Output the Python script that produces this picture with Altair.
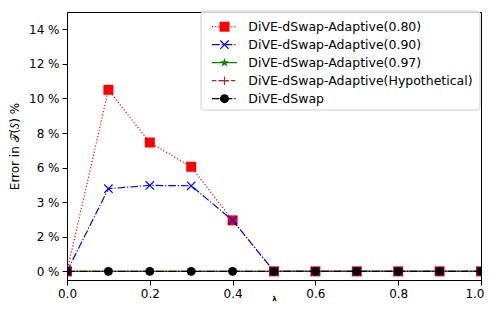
import math
import altair as alt
import pandas as pd

# ---- data ----
lam = [0.0, 0.1, 0.2, 0.3, 0.4, 0.5, 0.6, 0.7, 0.8, 0.9, 1.0]
adaptive_080 = [0.0, 10.5, 7.45, 6.05, 2.95, 0.0, 0.0, 0.0, 0.0, 0.0, 0.0]
adaptive_090 = [0.0, 4.78, 4.97, 4.95, 2.95, 0.0, 0.0, 0.0, 0.0, 0.0, 0.0]
adaptive_097 = [0.0, 0.0, 0.0, 0.0, 0.0, 0.0, 0.0, 0.0, 0.0, 0.0, 0.0]
adaptive_hyp = [0.0, 0.0, 0.0, 0.0, 0.0, 0.0, 0.0, 0.0, 0.0, 0.0, 0.0]
dswap = [0.0, 0.0, 0.0, 0.0, 0.0, 0.0, 0.0, 0.0, 0.0, 0.0, 0.0]

series_names = [
    "DiVE-dSwap-Adaptive(0.80)",
    "DiVE-dSwap-Adaptive(0.90)",
    "DiVE-dSwap-Adaptive(0.97)",
    "DiVE-dSwap-Adaptive(Hypothetical)",
    "DiVE-dSwap",
]
series_values = [adaptive_080, adaptive_090, adaptive_097, adaptive_hyp, dswap]

x_ticks = [0.0, 0.2, 0.4, 0.6, 0.8, 1.0]
y_ticks = [0, 2, 4, 6, 8, 10, 12, 14]
y_tick_labels = ["0 %", "2 %", "3 %", "6 %", "8 %", "10 %", "12 %", "14 %"]

# ---- layout / styles ----
W, H = 414, 268
XDOM = [0, 1]
YDOM = [-0.5, 15]


def px_x(px):
    return XDOM[0] + px / W * (XDOM[1] - XDOM[0])


def px_y(py):
    return YDOM[1] - py / H * (YDOM[1] - YDOM[0])


X_PATH = "M-1,-1L1,1M-1,1L1,-1"
PLUS_PATH = "M-1,0L1,0M0,-1L0,1"
pts = []
for k in range(10):
    r = 1.0 if k % 2 == 0 else 0.4
    a = -math.pi / 2 + k * math.pi / 5
    pts.append(f"{r*math.cos(a):.3f},{r*math.sin(a):.3f}")
STAR_PATH = "M" + "L".join(pts) + "Z"

styles = [
    dict(color="#ff0000", dash=[1.2, 2.0], shape="square", size=100, filled=True),
    dict(color="#0000ff", dash=[7.7, 1.9, 1.2, 1.9], shape=X_PATH, size=70, filled=False),
    dict(color="#008000", dash=[1, 0], shape=STAR_PATH, size=90, filled=True),
    dict(color="#a52a2a", dash=[4.4, 1.9], shape=PLUS_PATH, size=70, filled=False),
    dict(color="#000000", dash=[7.7, 1.9, 1.2, 1.9], shape="circle", size=80, filled=True),
]

rows = []
for name, vals in zip(series_names, series_values):
    for l, v in zip(lam, vals):
        rows.append({"series": name, "lam": l, "err": v})
df = pd.DataFrame(rows)

label_expr = "[" + ",".join(f"'{t}'" for t in y_tick_labels) + "][round(datum.value/2)]"

xscale = alt.Scale(domain=XDOM, nice=False, zero=False)
yscale = alt.Scale(domain=YDOM, nice=False, zero=False)

x_axis = alt.Axis(values=x_ticks, format=".1f", title="λ", titleFontSize=7,
                  titleY=14, titleBaseline="top", grid=False, tickSize=5,
                  labelPadding=3, labelFlush=False, labelOverlap=False,
                  labelAlign={"condition": {"test": "datum.value >= 1", "value": "right"},
                              "value": "center"},
                  labelOffset={"condition": {"test": "datum.value >= 1", "value": 3},
                               "value": 0})
y_axis = alt.Axis(values=y_ticks, labelExpr=label_expr, title="Error in 𝒯(𝑆) %",
                  titlePadding=7, grid=False, tickSize=5, labelPadding=3,
                  labelOverlap=False, titleFontWeight="normal")

x_enc = alt.X("lam:Q", scale=xscale, axis=x_axis, title="λ")
y_enc = alt.Y("err:Q", scale=yscale, axis=y_axis, title="Error in 𝒯(𝑆) %")

layers = []
for name, st in zip(series_names, styles):
    base = alt.Chart(df).transform_filter(alt.datum.series == name)
    layers.append(
        base.mark_line(color=st["color"], strokeDash=st["dash"], strokeWidth=1.2, clip=True)
        .encode(x=x_enc, y=y_enc)
    )
    layers.append(
        base.mark_point(shape=st["shape"], size=st["size"], filled=st["filled"],
                        color=st["color"], opacity=1, strokeWidth=1.2, clip=True)
        .encode(x=x_enc, y=y_enc)
    )


def lx(px):
    return alt.XDatum(px_x(px), type="quantitative", scale=xscale, axis=x_axis, title="λ")


def ly(py):
    return alt.YDatum(px_y(py), type="quantitative", scale=yscale, axis=y_axis,
                      title="Error in 𝒯(𝑆) %")


one = pd.DataFrame({"k": [0]})
layers.append(
    alt.Chart(one).mark_rect(fill="white", fillOpacity=0.8, stroke="#cccccc",
                             strokeWidth=1, cornerRadius=3)
    .encode(x=lx(134), x2=alt.X2Datum(px_x(413)),
            y=ly(-1), y2=alt.Y2Datum(px_y(98)))
)
for i, (name, st) in enumerate(zip(series_names, styles)):
    row_y = 14.7 + i * 18.0
    layers.append(
        alt.Chart(one).mark_rule(color=st["color"], strokeDash=st["dash"], strokeWidth=1.2)
        .encode(x=lx(145), x2=alt.X2Datum(px_x(170)), y=ly(row_y))
    )
    layers.append(
        alt.Chart(one).mark_point(shape=st["shape"], size=st["size"], filled=st["filled"],
                                  color=st["color"], opacity=1, strokeWidth=1.2)
        .encode(x=lx(157.5), y=ly(row_y))
    )
    layers.append(
        alt.Chart(one).mark_text(align="left", baseline="middle", fontSize=12.5,
                                 font="DejaVu Sans", color="black")
        .encode(x=lx(181.3), y=ly(row_y), text=alt.value(name))
    )

chart = alt.layer(*layers).properties(
    width=W, height=H, autosize="none",
    padding={"left": 59, "top": 4, "right": 3, "bottom": 24},
).configure_view(stroke="black", strokeWidth=1).configure_axis(
    labelFont="DejaVu Sans", titleFont="DejaVu Sans", labelFontSize=12,
    titleFontSize=12, labelColor="black", titleColor="black",
    domainColor="black", tickColor="black",
)

chart.save("out.html", embed_options={"renderer": "svg", "actions": False})
